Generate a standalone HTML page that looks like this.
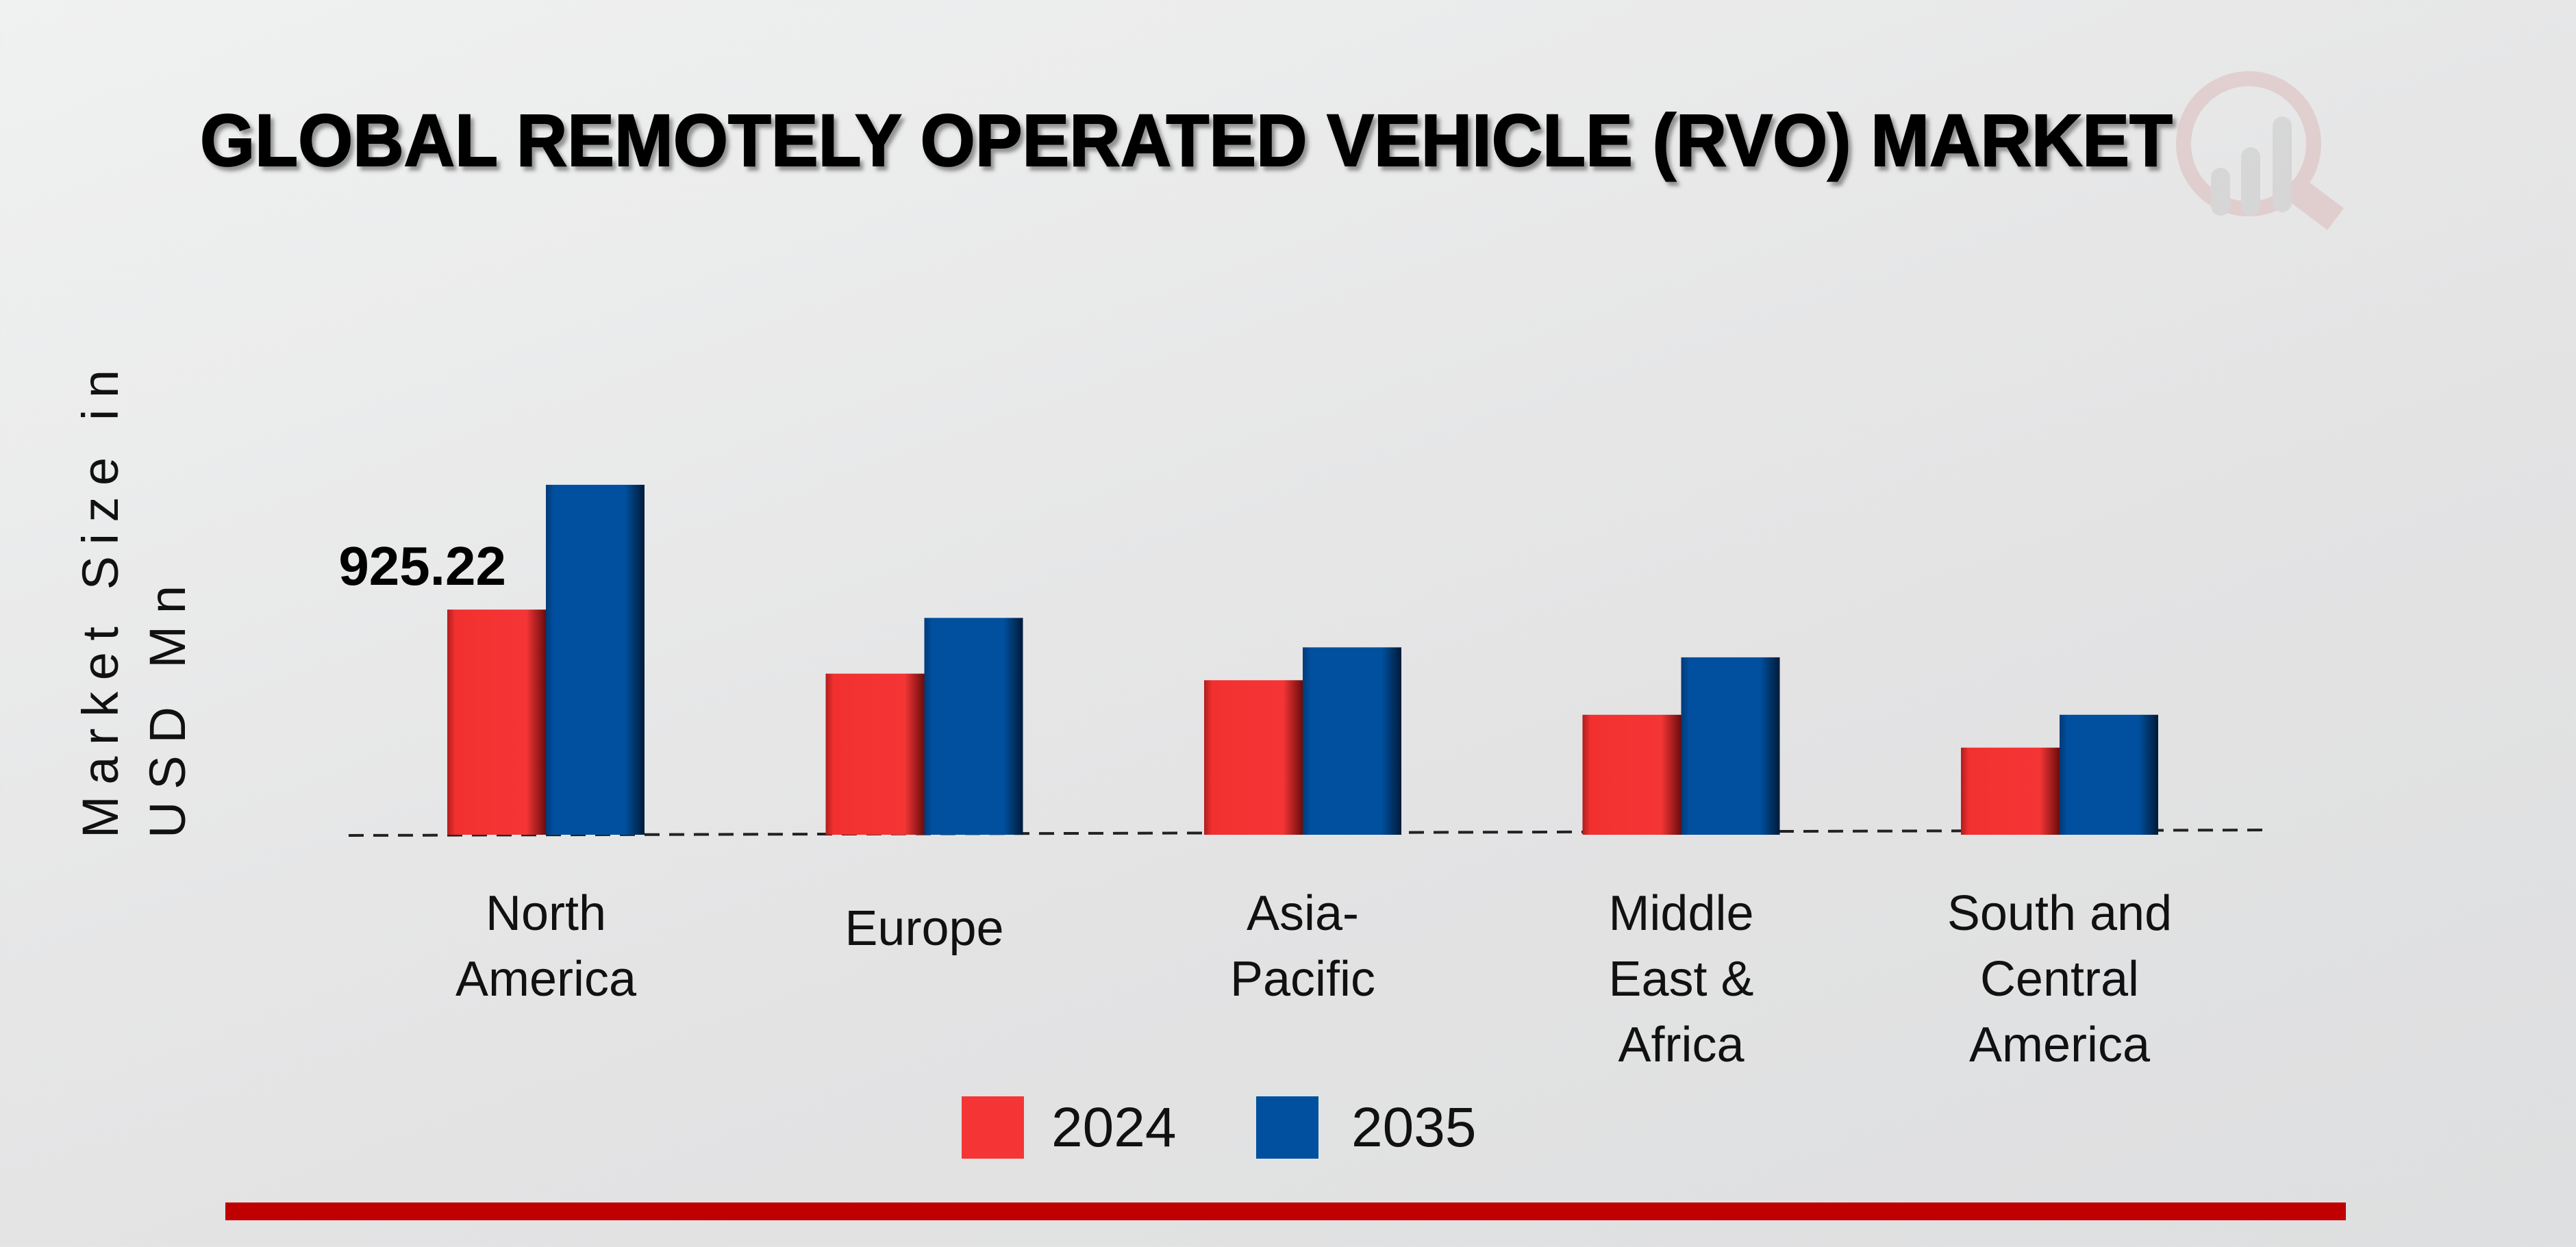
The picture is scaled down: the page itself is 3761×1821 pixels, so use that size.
<!DOCTYPE html>
<html><head><meta charset="utf-8"><style>
html,body{margin:0;padding:0;width:3761px;height:1821px;overflow:hidden;}
body{background:linear-gradient(160deg,#f0f1f1 0%,#e3e3e4 60%,#dedfe0 100%);font-family:"Liberation Sans",sans-serif;}
</style></head><body>
<svg id="chart" width="3761" height="1821" viewBox="0 0 3761 1821" xmlns="http://www.w3.org/2000/svg">
<defs>
<linearGradient id="gRed" x1="0" y1="0" x2="1" y2="0">
<stop offset="0" stop-color="#b01e1e"/><stop offset="0.08" stop-color="#f23030"/><stop offset="0.8" stop-color="#f53535"/><stop offset="1" stop-color="#6a0c0c"/></linearGradient>
<linearGradient id="gBlue" x1="0" y1="0" x2="1" y2="0">
<stop offset="0" stop-color="#003a78"/><stop offset="0.08" stop-color="#00509f"/><stop offset="0.8" stop-color="#00509f"/><stop offset="1" stop-color="#001a38"/></linearGradient>
<filter id="sh"><feDropShadow dx="5" dy="6" stdDeviation="3" flood-color="#555" flood-opacity="0.6"/></filter>
</defs>
<g opacity="0.5">
<circle cx="3283" cy="210" r="95" fill="none" stroke="#dcb8b8" stroke-width="22"/>
<line x1="3350" y1="275" x2="3410" y2="320" stroke="#dcb8b8" stroke-width="40"/>
<rect x="3228" y="245" width="28" height="70" rx="14" fill="#c8c8c8"/>
<rect x="3272" y="215" width="28" height="100" rx="14" fill="#c8c8c8"/>
<rect x="3318" y="170" width="28" height="140" rx="14" fill="#c8c8c8"/>
</g>
<text x="292" y="242" font-size="108" font-weight="bold" fill="#000" filter="url(#sh)" textLength="2880" lengthAdjust="spacingAndGlyphs" stroke="#000" stroke-width="2">GLOBAL REMOTELY OPERATED VEHICLE (RVO) MARKET</text>
<g font-size="74" fill="#111" letter-spacing="16">
<text transform="translate(172,1224) rotate(-90)" textLength="700">Market Size in</text>
<text transform="translate(270,1224) rotate(-90)" textLength="385">USD Mn</text>
</g>
<line x1="509" y1="1220" x2="3315" y2="1212" stroke="#222" stroke-width="4" stroke-dasharray="22,14"/>
<g id="bars"></g>
<g id="labels" font-size="72" fill="#111" text-anchor="middle"></g>
<g>
<rect x="1404" y="1601" width="91" height="91" fill="#f53535"/>
<text x="1535" y="1674" font-size="82" fill="#111">2024</text>
<rect x="1834" y="1601" width="91" height="91" fill="#00509f"/>
<text x="1973" y="1674" font-size="82" fill="#111">2035</text>
</g>
<rect x="329" y="1756" width="3096" height="26" fill="#c00000"/>
</svg>
<script>
const categories = [["North","America"],["Europe"],["Asia-","Pacific"],["Middle","East &","Africa"],["South and","Central","America"]];
const values2024 = [925.22, 662, 635, 493, 358];
const values2035 = [1438, 891, 770, 729, 493];
const NS = "http://www.w3.org/2000/svg";
const baseY = 1219, pxPerUnit = 0.3554, x0 = 797, step = 552.5, bw = 144;
function xc(i){return x0 + i*step;}
function yv(v){return baseY - v*pxPerUnit;}
const bars = document.getElementById('bars');
const labels = document.getElementById('labels');
function bar(i, v, left, fill, name){
  const r = document.createElementNS(NS,'rect');
  r.setAttribute('x', left); r.setAttribute('y', yv(v));
  r.setAttribute('width', bw); r.setAttribute('height', baseY - yv(v));
  r.setAttribute('fill', fill);
  
  
  bars.appendChild(r);
}
categories.forEach((c, i) => {
  bar(i, values2024[i], xc(i) - bw, 'url(#gRed)', 'bar-2024-' + i);
  bar(i, values2035[i], xc(i), 'url(#gBlue)', 'bar-2035-' + i);
  const n = c.length;
  const startY = n === 1 ? 1380 : 1358;
  c.forEach((line, j) => {
    const t = document.createElementNS(NS,'text');
    t.setAttribute('x', xc(i)); t.setAttribute('y', startY + j*96);
    t.textContent = line;
    
    
    labels.appendChild(t);
  });
});
const vl = document.createElementNS(NS,'text');
vl.setAttribute('x', xc(0) - 58); vl.setAttribute('y', yv(values2024[0]) - 36);
vl.setAttribute('font-size', '80'); vl.setAttribute('font-weight', 'bold'); vl.setAttribute('text-anchor', 'end');
vl.textContent = values2024[0].toFixed(2);


document.getElementById('chart').appendChild(vl);
</script>
</body></html>
